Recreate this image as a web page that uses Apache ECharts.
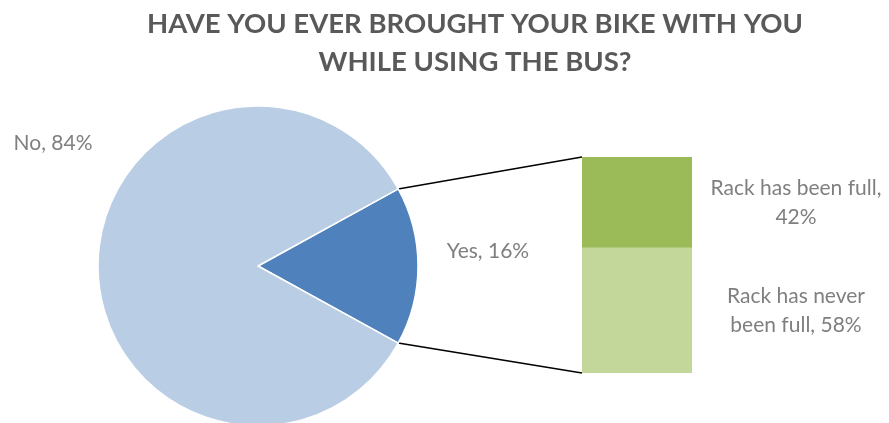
<!DOCTYPE html>
<html lang="en">
<head>
    <meta charset="UTF-8">
    <title>Bike on bus</title>
    <script src="https://cdn.jsdelivr.net/npm/echarts@6/dist/echarts.min.js"></script>
    <style>
        * { margin: 0; padding: 0 }
        html, body { height: 100%; background: #fff; }
    </style>
</head>
<body>
    <div id="main" style="width:889px;height:423px"></div>
    <script>
        var titleText = 'HAVE YOU EVER BROUGHT YOUR BIKE WITH YOU\nWHILE USING THE BUS?';
        var pieNames = ['Yes', 'No'];
        var pieValues = [16, 84];
        var barNames = ['Rack has never been full', 'Rack has been full'];
        var barLabels = ['Rack has never\nbeen full, 58%', 'Rack has been full,\n42%'];
        var barValues = [58, 42];

        var font = 'Lato';
        var pieCenter = [258, 266];
        var pieRadius = 160;

        var chart = echarts.init(document.getElementById('main'));
        var startAngle = pieValues[0] / 100 * 180;

        chart.setOption({
            animation: false,
            title: {
                text: titleText,
                left: 470,
                textAlign: 'center',
                top: 0,
                textStyle: {
                    fontFamily: font,
                    fontSize: 27.5,
                    fontWeight: 'bold',
                    color: '#595959',
                    lineHeight: 38
                }
            },
            grid: { left: 582, top: 157, width: 110, height: 216 },
            xAxis: { type: 'category', data: ['Yes'], show: false },
            yAxis: { type: 'value', min: 0, max: 100, show: false },
            series: [{
                type: 'pie',
                center: pieCenter,
                radius: pieRadius,
                startAngle: startAngle,
                clockwise: true,
                data: pieNames.map(function (n, i) {
                    return { name: n, value: pieValues[i] };
                }),
                itemStyle: { borderColor: '#fff', borderWidth: 1.5 },
                color: ['#4f81bd', '#b9cde5'],
                label: {
                    show: true,
                    formatter: '{b}, {c}%',
                    fontFamily: font,
                    fontSize: 21,
                    color: '#7f7f7f',
                    overflow: 'none'
                },
                labelLine: { show: false },
                labelLayout: function (p) {
                    if (p.dataIndex === 0) return { x: 488, y: 251, align: 'center', verticalAlign: 'middle' };
                    return { x: 53, y: 143, align: 'center', verticalAlign: 'middle' };
                },
                emphasis: { disabled: true }
            }].concat(barValues.map(function (v, i) {
                return {
                    type: 'bar',
                    name: barNames[i],
                    stack: 'rack',
                    barWidth: '100%',
                    data: [v],
                    itemStyle: { color: i === 0 ? '#c4d79b' : '#9bbb59' },
                    label: {
                        show: true,
                        position: [214, '50%'],
                        align: 'center',
                        verticalAlign: 'middle',
                        formatter: barLabels[i],
                        fontFamily: font,
                        fontSize: 21,
                        lineHeight: 29,
                        color: '#7f7f7f'
                    },
                    emphasis: { disabled: true }
                };
            }))
        });

        // connector lines from the Yes slice edge to the bar corners
        var a = startAngle * Math.PI / 180;
        var p1 = [pieCenter[0] + pieRadius * Math.cos(a), pieCenter[1] - pieRadius * Math.sin(a)];
        var p2 = [p1[0], pieCenter[1] + pieRadius * Math.sin(a)];
        var topLeft = chart.convertToPixel({ gridIndex: 0 }, ['Yes', 100]);
        var botLeft = chart.convertToPixel({ gridIndex: 0 }, ['Yes', 0]);
        var barLeft = 582;
        chart.setOption({
            graphic: [
                { type: 'line', shape: { x1: p1[0], y1: p1[1], x2: barLeft, y2: topLeft[1] }, style: { stroke: '#000', lineWidth: 1.5 } },
                { type: 'line', shape: { x1: p2[0], y1: p2[1], x2: barLeft, y2: botLeft[1] }, style: { stroke: '#000', lineWidth: 1.5 } }
            ]
        });
    </script>
</body>
</html>
